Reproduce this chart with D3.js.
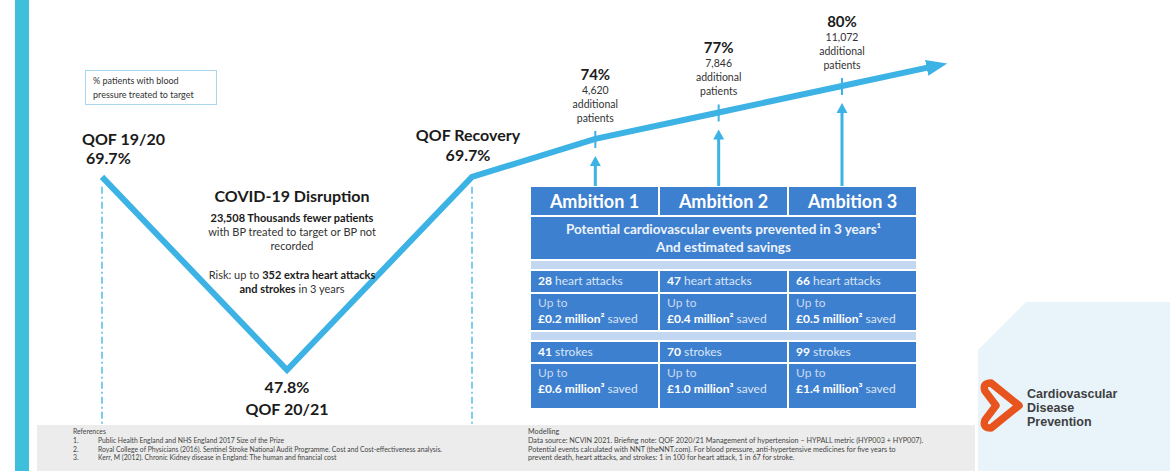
<!DOCTYPE html>
<html>
<head>
<meta charset="utf-8">
<script src="https://cdn.jsdelivr.net/npm/d3@7"></script>
<style>
  html, body { margin: 0; padding: 0; background: #ffffff; }
  svg { display: block; font-family: Lato, "Open Sans", sans-serif; }
</style>
</head>
<body>
<svg id="chart" width="1170" height="471"></svg>
<script>
// Timeline stages and % of patients with blood pressure treated to target
const stages = ["QOF 19/20", "QOF 20/21", "QOF Recovery", "Ambition 1", "Ambition 2", "Ambition 3"];
const treatedPct = [69.7, 47.8, 69.7, 74, 77, 80];

// Ambition outcomes
const ambitionPatients = [4620, 7846, 11072];
const heartAttacks = [28, 47, 66];
const heartSavings = [0.2, 0.4, 0.5];
const strokes = [41, 70, 99];
const strokeSavings = [0.6, 1.0, 1.4];

const legendLines = ["% patients with blood", "pressure treated to target"];

const references = [
  "Public Health England and NHS England 2017  Size of the Prize",
  "Royal College of Physicians (2016). Sentinel Stroke National Audit Programme. Cost and Cost-effectiveness analysis.",
  "Kerr, M (2012). Chronic Kidney disease in England: The human and financial cost"
];
const modelling = [
  "Data source: NCVIN 2021. Briefing note: QOF 2020/21 Management of hypertension \u2013 HYPALL metric (HYP003 + HYP007).",
  "Potential events calculated with NNT (theNNT.com). For blood pressure, anti-hypertensive medicines for five years to",
  "prevent death, heart attacks, and strokes: 1 in 100 for heart attack, 1 in 67 for stroke."
];

const svg = d3.select("#chart");
const W = 1170, H = 471;

const LINE = "#3db2e4";
const CYAN = "#3ec0dc";
const TABLE = "#3d80d0";
const BAND = "#c4d7f1";
const DARK = "#1b1b1b";

// ---------- background pieces ----------
svg.append("rect").attr("x", 15).attr("y", 0).attr("width", 14).attr("height", H).attr("fill", CYAN);

// logo panel
svg.append("path")
  .attr("d", "M978,350 L1026,302 L1170,302 L1170,471 L978,471 Z")
  .attr("fill", "#e8f3fa");

// notes strip
svg.append("rect").attr("x", 37).attr("y", 425).attr("width", 938).attr("height", 46).attr("fill", "#ececec");

// ---------- scales ----------
// stage position: the three QOF stages are one step apart, the ambitions split the next two steps in thirds
const phase = i => i < 3 ? i : 2 + (i - 2) * 2 / 3;
const x = d3.scaleLinear().domain([0, 4]).range([102, 842]);
const y = d3.scaleLinear().domain([47.8, 80]).range([370, 86]);

const pts = stages.map((s, i) => ({ stage: s, v: treatedPct[i], p: phase(i) }));

// extend the last segment beyond Ambition 3 to carry the arrow head
const last = pts[pts.length - 1], prev = pts[pts.length - 2];
const slope = (last.v - prev.v) / (last.p - prev.p);
const tail = { p: last.p + 0.5, v: last.v + slope * 0.5 };

// ---------- legend ----------
const lg = svg.append("g");
lg.append("rect").attr("x", 85.5).attr("y", 70.5).attr("width", 131).attr("height", 34)
  .attr("fill", "#fff").attr("stroke", "#a8d6ee").attr("stroke-width", 1);
lg.selectAll("text").data(legendLines).join("text")
  .attr("x", 93).attr("y", (d, i) => 84 + i * 14)
  .attr("font-size", 9).attr("fill", "#333").text(d => d);

// ---------- dashed guides ----------
[0, 2].forEach(i => {
  svg.append("line")
    .attr("x1", x(pts[i].p)).attr("x2", x(pts[i].p))
    .attr("y1", y(pts[i].v) + 10).attr("y2", 425)
    .attr("stroke", "#5cc0e8").attr("stroke-width", 1.6)
    .attr("stroke-dasharray", "7,3,2,3");
});

// ---------- main line with arrow ----------
const defs = svg.append("defs");
defs.append("marker")
  .attr("id", "headMain").attr("markerUnits", "userSpaceOnUse")
  .attr("viewBox", "0 -9 22 18").attr("refX", 8).attr("refY", 0)
  .attr("markerWidth", 22).attr("markerHeight", 18).attr("orient", "auto")
  .append("path").attr("d", "M0,-8 L21,0 L0,8 Z").attr("fill", LINE);

const line = d3.line().x(d => x(d.p)).y(d => y(d.v));
svg.append("path")
  .datum(pts.concat([tail]))
  .attr("d", line)
  .attr("fill", "none").attr("stroke", LINE).attr("stroke-width", 6)
  .attr("stroke-linejoin", "miter")
  .attr("marker-end", "url(#headMain)");

// ---------- stage labels ----------
const big = (sel) => sel.attr("font-size", 16).attr("font-weight", 700).attr("fill", DARK);

big(svg.append("text").attr("x", x(pts[0].p) - 20).attr("y", y(pts[0].v) - 32).text(pts[0].stage));
big(svg.append("text").attr("x", x(pts[0].p) - 16).attr("y", y(pts[0].v) - 13).text(pts[0].v.toFixed(1) + "%"));

big(svg.append("text").attr("x", x(pts[1].p)).attr("y", y(pts[1].v) + 23).attr("text-anchor", "middle").text(pts[1].v.toFixed(1) + "%"));
big(svg.append("text").attr("x", x(pts[1].p)).attr("y", y(pts[1].v) + 45).attr("text-anchor", "middle").text(pts[1].stage));

big(svg.append("text").attr("x", x(pts[2].p) - 4).attr("y", y(pts[2].v) - 36).attr("text-anchor", "middle").text(pts[2].stage));
big(svg.append("text").attr("x", x(pts[2].p) - 4).attr("y", y(pts[2].v) - 16).attr("text-anchor", "middle").text(pts[2].v.toFixed(1) + "%"));

// ---------- COVID disruption note ----------
const cx = x(pts[1].p) + 5;
const note = svg.append("g").attr("text-anchor", "middle").attr("fill", DARK);
note.append("text").attr("x", cx).attr("y", 202).attr("font-size", 16).attr("font-weight", 700).text("COVID-19 Disruption");
note.append("text").attr("x", cx).attr("y", 222).attr("font-size", 11).attr("font-weight", 700).text("23,508 Thousands fewer patients");
note.append("text").attr("x", cx).attr("y", 236).attr("font-size", 11).attr("fill", "#333").text("with BP treated to target or BP not");
note.append("text").attr("x", cx).attr("y", 250).attr("font-size", 11).attr("fill", "#333").text("recorded");
const r1 = note.append("text").attr("x", cx).attr("y", 279).attr("font-size", 11).attr("fill", "#333");
r1.append("tspan").text("Risk: up to ");
r1.append("tspan").attr("font-weight", 700).attr("fill", DARK).text("352 extra heart attacks");
const r2 = note.append("text").attr("x", cx).attr("y", 293).attr("font-size", 11).attr("fill", "#333");
r2.append("tspan").attr("font-weight", 700).attr("fill", DARK).text("and strokes");
r2.append("tspan").text(" in 3 years");

// ---------- ambition table ----------
const ambitions = pts.slice(3);
const tableTop = 186;
const col = d3.scaleBand().domain(ambitions.map(d => d.stage)).range([530, 917]);
const gap = 1;

// ambition pointers: arrow from the table up to the timeline, plus a tick across the line
ambitions.forEach((d, k) => {
  const ax = x(d.p), ay = y(d.v);
  svg.append("line").attr("x1", ax).attr("x2", ax).attr("y1", ay - 8).attr("y2", ay + 9)
    .attr("stroke", LINE).attr("stroke-width", 2);
  svg.append("line").attr("x1", ax).attr("x2", ax).attr("y1", tableTop).attr("y2", ay + 25)
    .attr("stroke", LINE).attr("stroke-width", 3);
  svg.append("path").attr("d", `M${ax - 5.5},${ay + 27} L${ax},${ay + 17} L${ax + 5.5},${ay + 27} Z`)
    .attr("fill", LINE);

  // labels above each ambition
  const g = svg.append("g").attr("text-anchor", "middle");
  g.append("text").attr("x", ax).attr("y", ay - 59).attr("font-size", 15).attr("font-weight", 700)
    .attr("fill", DARK).text(d.v + "%");
  [d3.format(",")(ambitionPatients[k]), "additional", "patients"].forEach((t, j) => {
    g.append("text").attr("x", ax).attr("y", ay - 45 + j * 14).attr("font-size", 10.5)
      .attr("fill", "#333").text(t);
  });
});

const tbl = svg.append("g");
const cell = (x0, y0, w, h, fill) => tbl.append("rect")
  .attr("x", x0 + gap).attr("y", y0 + gap).attr("width", w - 2 * gap).attr("height", h - 2 * gap).attr("fill", fill);

// header row
ambitions.forEach(d => {
  cell(col(d.stage), tableTop, col.bandwidth(), 30, TABLE);
  tbl.append("text").attr("x", col(d.stage) + col.bandwidth() / 2).attr("y", tableTop + 22)
    .attr("text-anchor", "middle").attr("font-size", 18).attr("font-weight", 700).attr("fill", "#fff")
    .text(d.stage);
});

// full-width summary row
cell(530, 216, 387, 44, TABLE);
const midX = 530 + 387 / 2;
tbl.append("text").attr("x", midX).attr("y", 234).attr("text-anchor", "middle")
  .attr("font-size", 13.5).attr("font-weight", 700).attr("fill", "#eef3fb")
  .text("Potential cardiovascular events prevented in 3 years\u00b9");
tbl.append("text").attr("x", midX).attr("y", 252).attr("text-anchor", "middle")
  .attr("font-size", 13.5).attr("font-weight", 700).attr("fill", "#eef3fb")
  .text("And estimated savings");

// pale separator bands
cell(530, 260, 387, 10, BAND);
cell(530, 331, 387, 10, BAND);

const rows = [
  { y0: 270, h: 23, kind: "count", nums: heartAttacks, unit: " heart attacks" },
  { y0: 293, h: 38, kind: "saving", nums: heartSavings, sup: "\u00b2" },
  { y0: 341, h: 22, kind: "count", nums: strokes, unit: " strokes" },
  { y0: 363, h: 46, kind: "saving", nums: strokeSavings, sup: "\u00b3" }
];

rows.forEach(r => {
  ambitions.forEach((d, k) => {
    const cx0 = col(d.stage);
    cell(cx0, r.y0, col.bandwidth(), r.h, TABLE);
    const tx = cx0 + 8;
    if (r.kind === "count") {
      const t = tbl.append("text").attr("x", tx).attr("y", r.y0 + 15).attr("font-size", 12).attr("fill", "#dbe6f6");
      t.append("tspan").attr("font-weight", 700).attr("fill", "#fff").text(r.nums[k]);
      t.append("tspan").text(r.unit);
    } else {
      tbl.append("text").attr("x", tx).attr("y", r.y0 + 14).attr("font-size", 12).attr("fill", "#c8d8f0").text("Up to");
      const t = tbl.append("text").attr("x", tx).attr("y", r.y0 + 30).attr("font-size", 12).attr("fill", "#dbe6f6");
      t.append("tspan").attr("font-weight", 700).attr("fill", "#fff").text("\u00a3" + r.nums[k].toFixed(1) + " million");
      t.append("tspan").attr("font-weight", 700).attr("fill", "#fff").text(r.sup);
      t.append("tspan").text(" saved");
    }
  });
});

// ---------- notes ----------
const notes = svg.append("g").attr("fill", "#444");
notes.append("text").attr("x", 73).attr("y", 434).attr("font-size", 6.8).text("References");
references.forEach((t, i) => {
  notes.append("text").attr("x", 73).attr("y", 443 + i * 8.7).attr("font-size", 6.8).text((i + 1) + ".");
  notes.append("text").attr("x", 98).attr("y", 443 + i * 8.7).attr("font-size", 6.8).text(t);
});
notes.append("text").attr("x", 528).attr("y", 434).attr("font-size", 7.2).text("Modelling");
modelling.forEach((t, i) => {
  notes.append("text").attr("x", 528).attr("y", 443 + i * 8.7).attr("font-size", 7.2).text(t);
});

// ---------- logo ----------
// sideways heart outline: two lobes on the left, point on the right
svg.append("path")
  .attr("d", "M985,391 L996,405.5 L985,420 Q982,428 991,428 L1019,405.5 L991,383 Q982,383 985,391 Z")
  .attr("fill", "none").attr("stroke", "#e8541e").attr("stroke-width", 7.5).attr("stroke-linejoin", "round");
const logo = svg.append("g").attr("font-family", "'Liberation Sans', Arial, sans-serif")
  .attr("font-size", 12.5).attr("font-weight", 700).attr("fill", "#3f3f3f");
["Cardiovascular", "Disease", "Prevention"].forEach((t, i) => {
  logo.append("text").attr("x", 1027).attr("y", 398 + i * 14).text(t);
});
</script>
</body>
</html>
